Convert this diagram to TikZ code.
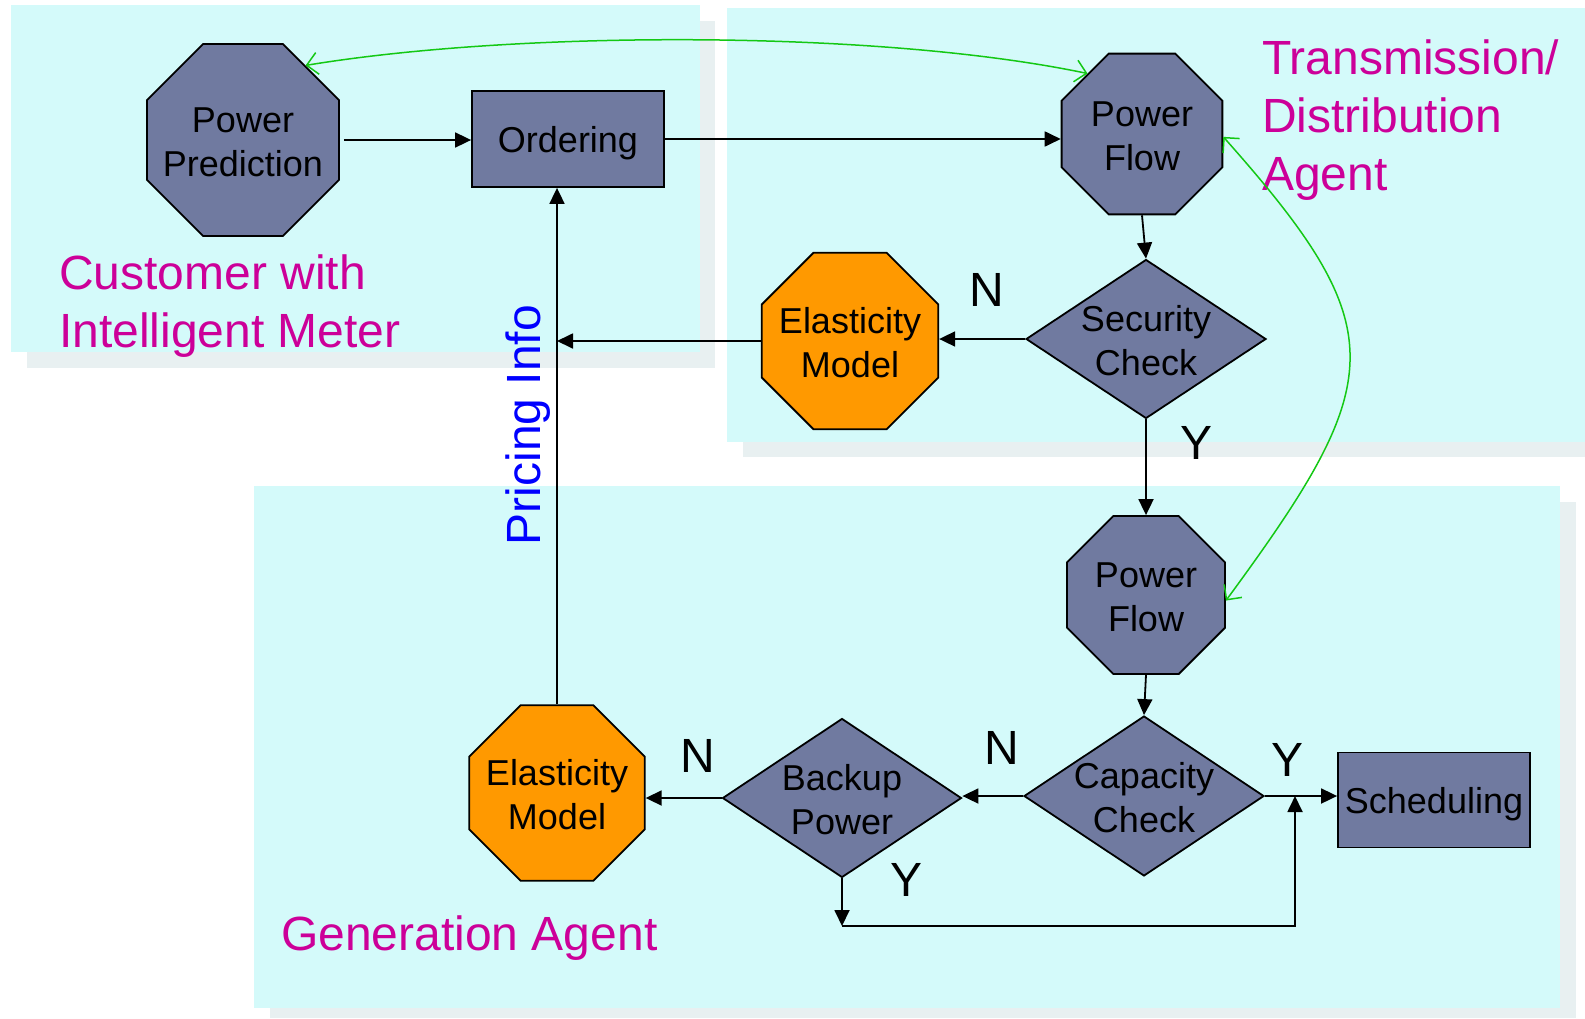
\documentclass[tikz,border=0pt]{standalone}
\usepackage{fontspec}
\setmainfont{Liberation Sans}
\usetikzlibrary{shapes.geometric,arrows.meta}

\definecolor{slate}{RGB}{112,122,160}
\definecolor{amber}{RGB}{255,153,0}
\definecolor{panelcyan}{RGB}{212,250,250}
\definecolor{panelshade}{RGB}{232,240,241}
\definecolor{agentmag}{RGB}{204,0,153}
\definecolor{infoblue}{RGB}{0,0,255}
\definecolor{linkgreen}{RGB}{20,200,20}

\begin{document}
\begin{tikzpicture}[x=1pt,y=-1pt,
  ntext/.style={font=\fontsize{36}{44}\selectfont, align=center, text=black, inner sep=0pt, yshift=-2pt},
  octo/.style={regular polygon, regular polygon sides=8, draw=black, line width=1.8pt,
               inner sep=0pt, fill=slate},
  octorange/.style={octo, fill=amber},
  decide/.style={diamond, draw=black, line width=1.8pt, inner sep=0pt, fill=slate},
  taskbox/.style={rectangle, draw=black, line width=1.8pt, inner sep=0pt, fill=slate,
                  font=\fontsize{36}{44}\selectfont, text height=26pt, text depth=0pt},
  conn/.style={draw=black, line width=1.8pt, -{Triangle[length=16pt,width=15pt]}},
  link/.style={draw=linkgreen, line width=1.5pt,
               {Straight Barb[length=11pt,width=22pt]}-{Straight Barb[length=11pt,width=22pt]}},
  agent/.style={font=\fontsize{48}{58}\selectfont, text=agentmag, align=left, inner sep=0pt},
  yesno/.style={font=\fontsize{48}{58}\selectfont, text=black, inner sep=0pt}
]
\useasboundingbox (0,0) rectangle (1585,1018);
\fill[white] (0,0) rectangle (1585,1018);

% agent panels: drop shadows, then the cyan areas
\fill[panelshade] (27,21) rectangle (715,368);
\fill[panelshade] (743,24) rectangle (1585,457);
\fill[panelshade] (270,502) rectangle (1576,1018);
\fill[panelcyan] (11,5) rectangle (700,352);
\fill[panelcyan] (727,8) rectangle (1585,442);
\fill[panelcyan] (254,486) rectangle (1560,1008);

% agent names
\node[agent, anchor=north west] (custlbl) at (59,255) {Customer with\\Intelligent Meter};
\node[agent, anchor=north west] (translbl) at (1262,40) {Transmission/\\Distribution\\Agent};
\node[agent, anchor=base west] (genlbl) at (281,950) {Generation Agent};
\node[font=\fontsize{48}{58}\selectfont, text=infoblue, rotate=90, inner sep=0pt] (price) at (528,425) {Pricing Info};

% customer
\node[octo, minimum size=208, label={[ntext]center:Power\\Prediction}] (pp) at (243,140) {};
\node[taskbox, minimum width=192, minimum height=96] (ord) at (568,139) {Ordering};

% transmission / distribution
\node[octo, minimum size=174, label={[ntext]center:Power\\Flow}] (pf1) at (1142,134) {};
\node[decide, minimum width=240, minimum height=159, label={[ntext]center:Security\\Check}] (sc) at (1146,339) {};
\node[octorange, minimum size=191, label={[ntext]center:Elasticity\\Model}] (em1) at (850,341) {};

% generation
\node[octo, minimum size=171, label={[ntext]center:Power\\Flow}] (pf2) at (1146,595) {};
\node[decide, minimum width=240, minimum height=160, label={[ntext]center:Capacity\\Check}] (cc) at (1144,796) {};
\node[decide, minimum width=239, minimum height=159, label={[ntext]center:Backup\\Power}] (bp) at (842,798) {};
\node[octorange, minimum size=190, label={[ntext]center:Elasticity\\Model}] (em2) at (557,793) {};
\node[taskbox, minimum width=192, minimum height=95] (sch) at (1434,800) {Scheduling};

% decision labels
\node[yesno] (n1) at (987,290) {N};
\node[yesno] (y1) at (1196,443) {Y};
\node[yesno] (n2) at (1002,748) {N};
\node[yesno] (y2) at (1287,760) {Y};
\node[yesno] (n3) at (698,756) {N};
\node[yesno] (y3) at (906,880) {Y};

% flow connectors
\draw[conn, shorten <=4pt] (pp.0) -- (pp.0 -| ord.west);
\draw[conn] (ord.east) -- (ord.east -| pf1.180);
\draw[conn] (pf1.270) -- (sc.north);
\draw[conn] (sc.west) -- (sc.west -| em1.0);
\draw[conn] (sc.south) -- (pf2.90);
\draw[conn] (em1.180) -- (em1.180 -| em2.90);
\draw[conn] (em2.90) -- (em2.90 |- ord.south);
\draw[conn] (pf2.270) -- (cc.north);
\draw[conn] (cc.west) -- (cc.west -| bp.east);
\draw[conn] (cc.east) -- (cc.east -| sch.west);
\draw[conn] (bp.west) -- (bp.west -| em2.0);
\coordinate (ybend) at (842,926);
\coordinate (ycorner) at (1295,926);
\draw[conn] (bp.south) -- (ybend);
\draw[conn] (ybend) -- (ycorner) -- (ycorner |- cc.east);

% information exchange between agents
\draw[link] (pp.50) .. controls (520,30) and (880,30) .. (pf1.132);
\draw[link] (pf1.-2) .. controls (1395,330) and (1388,380) .. (pf2.-4);
\end{tikzpicture}
\end{document}
